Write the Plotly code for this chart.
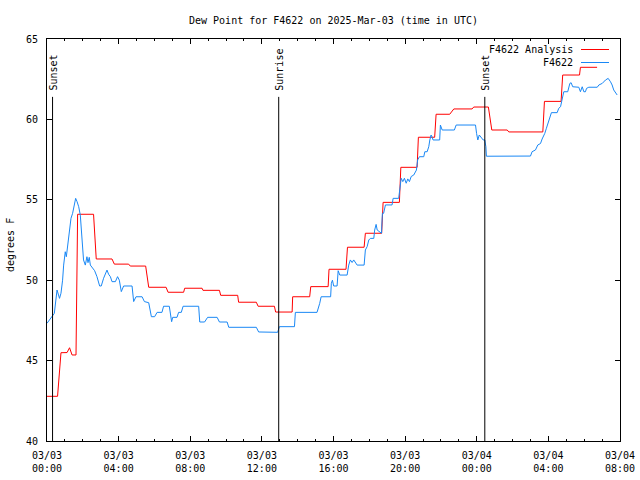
import pandas as pd
import plotly.graph_objects as go

# ---- data (hours after 2025-03-03 00:00 UTC, degrees F) ----
analysis_hours = [0.0, 0.59, 0.78, 1.12, 1.26, 1.40, 1.62, 1.71, 2.60, 2.75, 3.63, 3.76, 4.56, 4.65,
                  5.51, 5.68, 6.65, 6.76, 7.63, 7.69, 8.66, 8.71, 9.63, 9.70, 10.65, 10.70, 11.69,
                  11.79, 12.70, 12.77, 13.69, 13.72, 14.67, 14.73, 15.70, 15.75, 16.70, 16.78, 17.71,
                  17.78, 18.69, 18.77, 19.68, 19.76, 20.67, 20.74, 21.65, 21.73, 22.49, 22.72, 23.74,
                  23.83, 24.65, 24.84, 25.70, 25.79, 27.69, 27.78, 28.71, 28.80, 29.74, 29.79, 30.72]
analysis_values = [42.78, 42.78, 45.49, 45.50, 45.80, 45.35, 45.35, 54.10, 54.10, 51.32, 51.32, 51.00,
                   51.00, 50.88, 50.88, 49.56, 49.56, 49.25, 49.25, 49.50, 49.50, 49.37, 49.37, 49.06,
                   49.06, 48.63, 48.63, 48.38, 48.38, 48.02, 48.02, 48.97, 48.97, 49.60, 49.60, 50.68,
                   50.68, 52.05, 52.05, 52.92, 52.92, 54.84, 54.84, 57.02, 57.02, 58.89, 58.89, 60.32,
                   60.32, 60.65, 60.65, 60.77, 60.77, 59.34, 59.34, 59.22, 59.22, 61.12, 61.12, 62.76,
                   62.76, 63.24, 63.24]

obs_hours = [0.0, 0.31, 0.41, 0.56, 0.63, 0.70, 0.78, 0.87, 0.93, 1.02, 1.08, 1.15, 1.26, 1.34, 1.43,
             1.53, 1.60, 1.68, 1.77, 1.86, 1.96, 2.04, 2.14, 2.23, 2.29, 2.36, 2.42, 2.55, 2.66, 2.79,
             2.94, 3.03, 3.16, 3.35, 3.44, 3.54, 3.63, 3.82, 3.94, 4.04, 4.15, 4.28, 4.75, 4.84, 4.97,
             5.31, 5.44, 5.68, 5.83, 6.01, 6.15, 6.42, 6.51, 6.83, 6.93, 6.96, 7.02, 7.26, 7.35, 7.50,
             7.60, 8.47, 8.53, 8.80, 8.97, 9.50, 9.63, 10.06, 10.15, 11.69, 11.82, 12.88, 12.98, 13.82,
             13.87, 15.08, 15.23, 15.31, 15.84, 15.88, 15.94, 16.01, 16.20, 16.26, 16.35, 16.76, 16.85,
             16.94, 17.04, 17.13, 17.32, 17.71, 17.78, 17.88, 17.97, 18.06, 18.25, 18.30, 18.38, 18.44,
             18.68, 18.73, 18.80, 18.90, 19.27, 19.33, 19.64, 19.70, 19.78, 19.87, 19.96, 20.06, 20.15,
             20.24, 20.34, 20.48, 20.63, 20.70, 20.80, 21.04, 21.10, 21.23, 21.32, 21.38, 21.45, 21.51,
             21.56, 21.93, 21.97, 22.07, 22.75, 22.85, 23.93, 23.99, 24.06, 24.14, 24.25, 24.36, 24.45,
             24.51, 24.54, 27.00, 27.09, 27.28, 27.41, 27.56, 27.65, 27.80, 27.89, 28.02, 28.12, 28.17,
             28.49, 28.58, 28.68, 28.77, 28.86, 29.08, 29.20, 29.27, 29.36, 29.70, 29.79, 29.89, 29.98,
             30.07, 30.13, 30.26, 30.73, 30.82, 31.01, 31.19, 31.34, 31.47, 31.56, 31.65, 31.84]
obs_values = [47.32, 47.84, 47.94, 49.39, 49.19, 48.87, 49.19, 50.00, 50.94, 51.77, 51.46, 52.19, 53.12,
              53.85, 54.16, 54.78, 55.09, 54.88, 54.57, 54.05, 52.50, 51.26, 50.94, 51.46, 51.09, 51.42,
              50.94, 50.74, 50.59, 50.22, 49.64, 49.64, 50.12, 50.63, 50.37, 50.22, 49.91, 49.91, 50.22,
              50.00, 49.29, 49.64, 49.64, 48.67, 48.97, 48.97, 48.67, 48.60, 47.73, 47.73, 48.00, 48.00,
              48.38, 48.38, 47.69, 47.42, 47.69, 47.69, 48.00, 48.00, 48.38, 48.38, 47.40, 47.40, 47.69,
              47.69, 47.40, 47.40, 47.07, 47.07, 46.78, 46.76, 47.11, 47.11, 48.00, 48.00, 48.56, 48.97,
              48.97, 49.81, 50.00, 49.64, 49.64, 50.59, 50.32, 50.32, 50.94, 51.26, 51.10, 51.26, 50.94,
              50.94, 51.88, 52.09, 52.50, 52.60, 52.60, 53.12, 53.47, 53.12, 52.92, 54.16, 54.16, 54.68,
              54.68, 55.09, 55.09, 55.61, 56.34, 56.13, 56.34, 56.03, 56.30, 56.13, 56.45, 56.54, 56.85,
              57.48, 57.68, 57.68, 57.99, 57.99, 58.30, 58.72, 59.03, 58.90, 58.72, 58.72, 59.65, 59.34,
              59.34, 59.65, 59.65, 59.13, 58.72, 59.03, 58.86, 58.72, 58.72, 58.30, 57.71, 57.72, 57.99,
              58.10, 58.41, 58.50, 58.78, 59.13, 59.45, 59.86, 60.27, 60.42, 60.42, 60.69, 60.79, 61.31,
              61.72, 61.72, 62.24, 62.28, 62.03, 62.00, 61.72, 62.03, 61.72, 61.72, 61.93, 62.00, 62.00,
              62.14, 62.24, 62.45, 62.55, 62.34, 62.14, 61.83, 61.52]

event_hours = [0.31, 12.94, 24.45]
event_labels = ["Sunset", "Sunrise", "Sunset"]

series_names = ["F4622 Analysis", "F4622"]
series_colors = ["#ff0000", "#1a88f5"]

base = pd.Timestamp("2025-03-03 00:00")
def to_time(hours):
    return [base + pd.Timedelta(hours=h) for h in hours]

FONT = "DejaVu Sans Mono"

fig = go.Figure()
fig.add_trace(go.Scatter(x=to_time(analysis_hours), y=analysis_values, mode="lines",
                         line=dict(color=series_colors[0], width=1), name=series_names[0],
                         showlegend=False))
fig.add_trace(go.Scatter(x=to_time(obs_hours), y=obs_values, mode="lines",
                         line=dict(color=series_colors[1], width=1), name=series_names[1],
                         showlegend=False))

# sunrise / sunset markers
for t, lab in zip(to_time(event_hours), event_labels):
    fig.add_shape(type="line", xref="x", yref="y", x0=t, x1=t, y0=40, y1=61.4,
                  line=dict(color="black", width=1))
    fig.add_annotation(x=t, xref="x", y=(441 - 93) / 402, yref="paper", text=lab,
                       textangle=-90, showarrow=False, xanchor="center", yanchor="bottom",
                       font=dict(family=FONT, size=10, color="black"))

# legend (text then line sample, right aligned)
leg_y = [(441 - 49.5) / 402, (441 - 62.5) / 402]
for name, col, yy in zip(series_names, series_colors, leg_y):
    fig.add_annotation(x=(575 - 47) / 573, xref="paper", y=yy, yref="paper", text=name,
                       showarrow=False, xanchor="right", yanchor="middle",
                       font=dict(family=FONT, size=10, color="black"))
    fig.add_shape(type="line", xref="paper", yref="paper", x0=(581 - 47) / 573,
                  x1=(609 - 47) / 573, y0=yy, y1=yy, line=dict(color=col, width=1))

# y axis title
fig.add_annotation(x=(10 - 47) / 573, xref="paper", y=(441 - 245) / 402, yref="paper",
                   text="degrees F", textangle=-90, showarrow=False,
                   xanchor="center", yanchor="middle",
                   font=dict(family=FONT, size=10, color="black"))

fig.update_layout(
    width=640, height=480,
    margin=dict(l=47, r=20, t=39, b=39, autoexpand=False),
    paper_bgcolor="white", plot_bgcolor="white",
    font=dict(family=FONT, size=10, color="black"),
    title=dict(text="Dew Point for F4622 on 2025-Mar-03 (time in UTC)", x=0.5, xref="paper",
               xanchor="center", y=1 - 20 / 480, yref="container", yanchor="middle",
               font=dict(family=FONT, size=10, color="black")),
    showlegend=False,
)
fig.update_xaxes(
    type="date",
    range=[base, base + pd.Timedelta(hours=32)],
    tick0=base, dtick=4 * 3600 * 1000, tickformat="%m/%d<br>%H:%M",
    ticks="inside", ticklen=5, tickcolor="black", tickwidth=1,
    minor=dict(dtick=3600 * 1000, ticks="inside", ticklen=2, tickcolor="black", showgrid=False),
    showline=True, linecolor="black", linewidth=1, mirror="allticks",
    showgrid=False, zeroline=False,
    tickfont=dict(family=FONT, size=10, color="black"),
    ticklabelstandoff=5,
)
fig.update_yaxes(
    range=[40, 65], dtick=5, tick0=40,
    ticks="inside", ticklen=5, tickcolor="black", tickwidth=1,
    showline=True, linecolor="black", linewidth=1, mirror="allticks",
    showgrid=False, zeroline=False,
    tickfont=dict(family=FONT, size=10, color="black"),
    ticklabelstandoff=6,
)

fig.write_html("out.html", config={"displayModeBar": False},
               post_script="document.body.style.margin='0px';")
